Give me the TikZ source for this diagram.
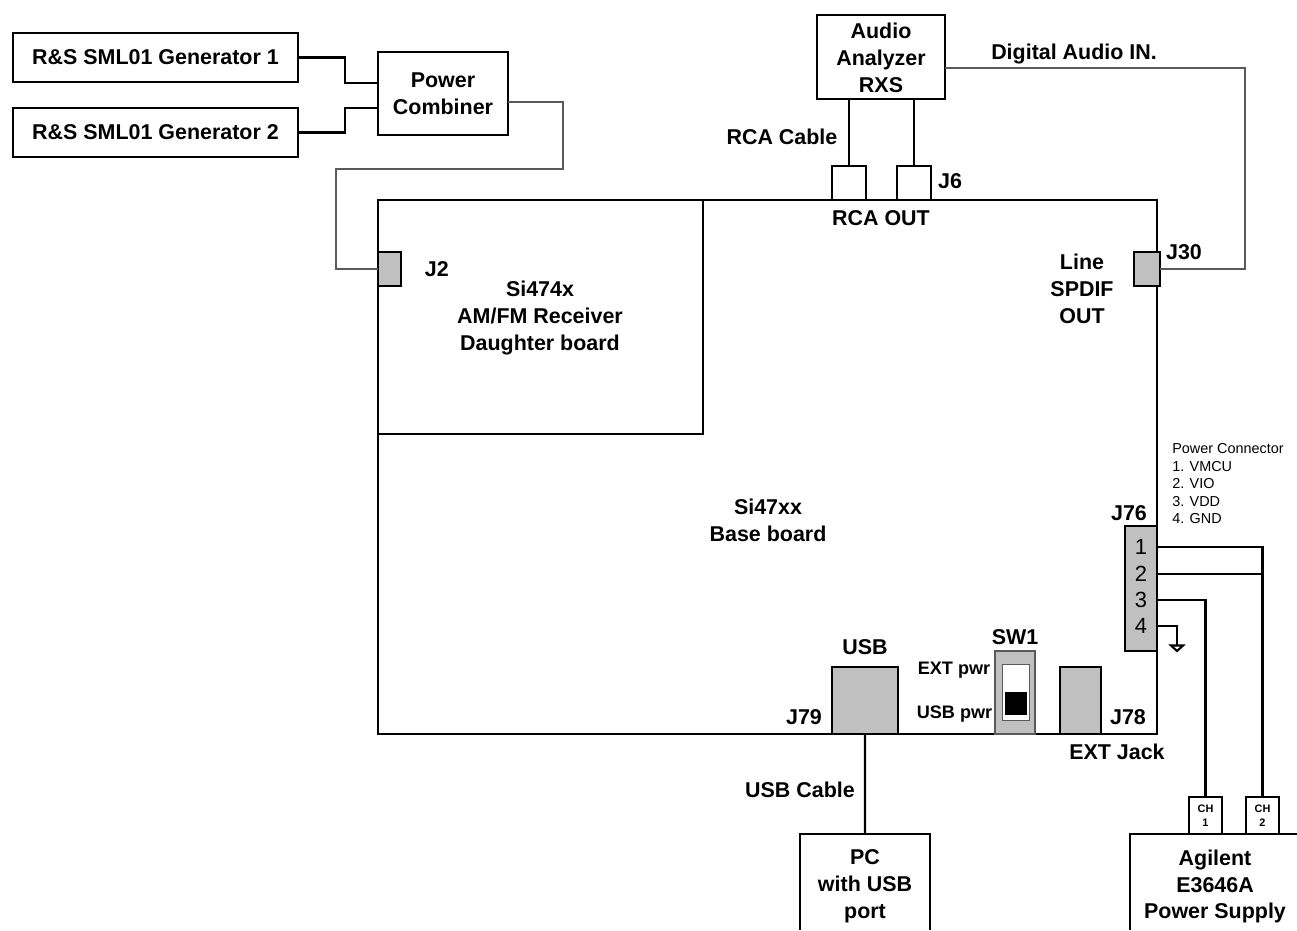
\documentclass[tikz,border=0pt]{standalone}
\usepackage{fontspec}
\setmainfont{Liberation Sans}
\usetikzlibrary{shapes.geometric, positioning}
\definecolor{mygray}{RGB}{192,192,192}
\definecolor{mywire}{RGB}{90,90,90}

\begin{document}
\begin{tikzpicture}[
  x=0.02cm, y=-0.02cm,
  lbl/.style={inner sep=0pt, outer sep=0pt, align=center,
    font=\bfseries\fontsize{12.2}{15.3}\selectfont},
  blk/.style={lbl, rectangle, draw=black, fill=white, line width=1.2pt},
  con/.style={blk, fill=mygray},
  small/.style={lbl, font=\bfseries\fontsize{10.3}{12}\selectfont},
  pin/.style={lbl, font=\fontsize{12.5}{15}\selectfont},
  ln/.style={line width=1.2pt},
  thin wire/.style={line width=0.6pt, draw=mywire},
  gnd/.style={isosceles triangle, isosceles triangle stretches,
    shape border rotate=-90, draw=black, fill=white, line width=1.2pt,
    inner sep=0pt, outer sep=0pt, minimum width=0.24cm, minimum height=0.11cm}
]
  \useasboundingbox (0,0) rectangle (1297,930);
  % Generators and combiner
  \node[blk, anchor=north west, minimum width=5.7cm, minimum height=0.98cm] (genone) at (13,33) {};
  \node[lbl] (genonelbl) at (155.5,57.5) {R\&S SML01 Generator 1};
  \node[blk, below=0.52cm of genone, minimum width=5.7cm, minimum height=0.98cm] (gentwo) {};
  \node[lbl] (gentwolbl) at (155.5,132.5) {R\&S SML01 Generator 2};
  \node[blk, anchor=north west, minimum width=2.6cm, minimum height=1.66cm] (pwr) at (378,52)
    {Power\\Combiner};
  \coordinate (pwrinone) at (378,83);
  \coordinate (pwrintwo) at (378,108);
  \coordinate (pwrout) at (508,102);

  % Boards
  \node[blk, anchor=north west, minimum width=15.58cm, minimum height=10.68cm] (base) at (378,200) {};
  \node[blk, anchor=north west, minimum width=6.5cm, minimum height=4.68cm] (dtr) at (378,200) {};
  \node[lbl] (dtrlbl) at (540,318) {Si474x\\AM/FM Receiver\\Daughter board};
  \node[lbl] (baselbl) at (768,520.5) {Si47xx\\Base board};

  % Audio analyzer
  \node[blk, anchor=north west, minimum width=2.56cm, minimum height=1.68cm] (aud) at (817,15) {};
  \node[lbl] (audlbl) at (881,58) {Audio\\Analyzer\\RXS};
  \coordinate (audout) at (945,68);
  \node[blk, anchor=south west, minimum width=0.68cm, minimum height=0.68cm] (rca) at (832,200) {};
  \node[blk, right=0.62cm of rca, minimum width=0.68cm, minimum height=0.68cm] (jsix) {};
  \node[lbl] (jsixlbl) at (950,181) {J6};
  \node[lbl] (rcaout) at (881,218.5) {RCA OUT};
  \node[lbl] (rcacable) at (782,136.5) {RCA Cable};
  \node[lbl] (digital) at (1074,54) {Digital Audio IN.};

  % Side connectors
  \node[con, anchor=north west, minimum width=0.46cm, minimum height=0.68cm] (jtwo) at (378,252) {};
  \node[lbl, right=0.48cm of jtwo] (jtwolbl) {J2};
  \node[con, anchor=north west, minimum width=0.52cm, minimum height=0.68cm] (jthirty) at (1134,252) {};
  \node[lbl] (jthirtylbl) at (1184,252) {J30};
  \node[lbl] (spdif) at (1082,289) {Line\\SPDIF\\OUT};

  % Power connector
  \node[con, anchor=north west, minimum width=0.64cm, minimum height=2.5cm] (jpwr) at (1125,526) {};
  \node[lbl] (jpwrlbl) at (1129,513) {J76};
  \node[anchor=north west, inner sep=0pt, align=left,
    font=\fontsize{8.2}{9.95}\selectfont] (pwrlist) at (1172,443.5)
    {Power Connector\\1. VMCU\\2. VIO\\3. VDD\\4. GND};
  \foreach \n/\y in {1/547, 2/574, 3/600, 4/626} {
    \node[pin] (pin\n) at (1141,\y) {\n};
    \coordinate (pout\n) at (1157,\y);
  }
  \node[gnd, anchor=lower side] (gnd) at (1177,645.5) {};

  % Bottom edge parts
  \node[con, anchor=south west, minimum width=1.32cm, minimum height=1.34cm] (jusb) at (832,734) {};
  \node[lbl, above=0.24cm of jusb] (usblbl) {USB};
  \node[lbl] (jusblbl) at (804,717) {J79};
  \node[con, anchor=south west, minimum width=0.82cm, minimum height=1.34cm] (jext) at (1060,734) {};
  \node[lbl] (jextlbl) at (1128,717) {J78};
  \node[lbl] (extjack) at (1117,752) {EXT Jack};
  \node[con, anchor=south west, minimum width=0.8cm, minimum height=1.66cm, line width=0.7pt,
    draw=mywire] (sw) at (995,734) {};
  \node[blk, anchor=north west, minimum width=0.54cm, minimum height=1.12cm, line width=0.5pt,
    draw=mywire] (swslot) at (1002,664) {};
  \node[blk, anchor=north west, minimum width=0.42cm, minimum height=0.44cm, fill=black, line width=0pt] (swknob) at (1005,692) {};
  \node[lbl] (swlbl) at (1015,637) {SW1};
  \node[small] (extpwr) at (954,670.5) {EXT pwr};
  \node[small] (usbpwr) at (954.5,714.5) {USB pwr};

  % PC
  \node[anchor=north west, inner sep=0pt, outer sep=0pt, minimum width=2.6cm, minimum height=1.92cm] (pc) at (800,834) {};
  \node[lbl] (pclbl) at (865,886.5) {PC\\with USB\\port};
  \node[lbl] (usbcable) at (800,789.5) {USB Cable};

  % Supply
  \node[anchor=north west, inner sep=0pt, outer sep=0pt, minimum width=3.34cm, minimum height=1.92cm] (agi) at (1130,834) {};
  \node[lbl] (agilbl) at (1215,886.5) {Agilent\\E3646A\\Power Supply};
  \node[blk, anchor=south west, minimum width=0.66cm, minimum height=0.74cm,
    font=\bfseries\fontsize{6.2}{8}\selectfont] (chone) at (1189,834) {CH\\1};
  \node[blk, right=0.48cm of chone, minimum width=0.66cm, minimum height=0.74cm,
    font=\bfseries\fontsize{6.2}{8}\selectfont] (chtwo) {CH\\2};

  % Wires
  \draw[ln] (genone.east) -- ++(47,0) |- (pwrinone);
  \draw[ln] (gentwo.east) -- ++(47,0) |- (pwrintwo);
  \draw[thin wire] (pwrout) -- ++(55,0) -- ++(0,67) -- ++(-227,0) |- (jtwo.west);
  \draw[ln] (rca.north) -- (rca.north |- aud.south);
  \draw[ln] (jsix.north) -- (jsix.north |- aud.south);
  \draw[thin wire] (audout) -- ++(300,0) |- (jthirty.east);
  \draw[ln] (pout1) -| (chtwo.north);
  \draw[ln] (pout2) -| (chtwo.north);
  \draw[ln] (pout3) -| (chone.north);
  \draw[ln] (pout4) -| (gnd.lower side);
  \draw[ln] (jusb.south) -- (pc.north);
  \draw[ln] (pc.south west) -- (pc.north west) -- (pc.north east) -- (pc.south east);
  \draw[ln] (agi.south west) -- (agi.north west) -- (agi.north east);
\end{tikzpicture}
\end{document}
